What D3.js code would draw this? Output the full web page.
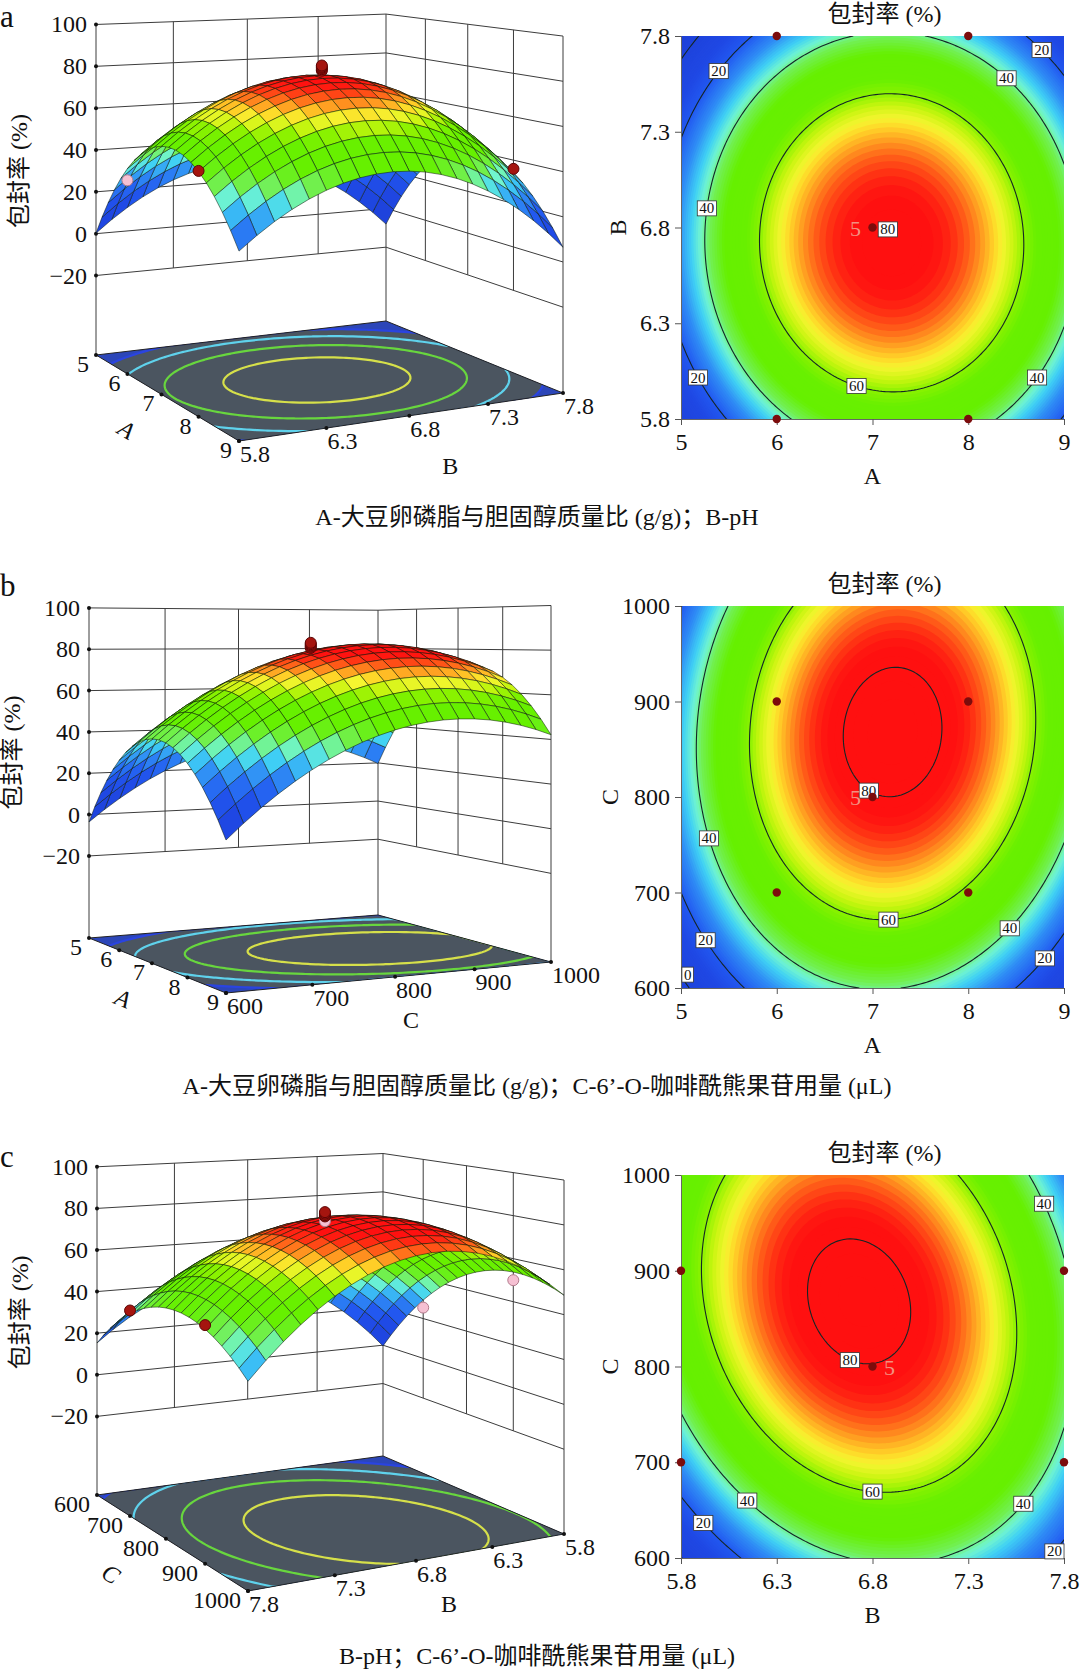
<!DOCTYPE html>
<html>
<head>
<meta charset="utf-8">
<script src="https://cdn.jsdelivr.net/npm/d3@7"></script>
<style>
  body { margin: 0; background: #fff; }
  svg text { font-family: "Liberation Serif", "Times New Roman", "Noto Sans CJK SC", serif; fill: #111; }
</style>
</head>
<body>
<svg id="chart" width="1080" height="1672"></svg>
<script>
// ---------- values ----------
const factorLow = [5, 5.8, 600];
const factorHigh = [9, 7.8, 1000];
const factorTicks = [[5, 6, 7, 8, 9], [5.8, 6.3, 6.8, 7.3, 7.8], [600, 700, 800, 900, 1000]];
const factorStep = [1, 1, 100];          // coded unit of the fitted model
const designLow = [6, 5.8, 700];
const designHigh = [8, 7.8, 900];
const designCentre = [7, 6.8, 800];

const responseTicks = [-20, 0, 20, 40, 60, 80, 100];
const contourLevels = [0, 20, 40, 60, 80];
const floorLevels = [20, 37, 54, 70];

// contour x / y factor of each panel
const panelNames = ["a", "b", "c"];
const panelX = [0, 0, 1];
const panelY = [1, 2, 2];
// quadratic response surface, estimated from the contour shapes
const panelPeak = [80.0, 82.7, 82.4];
const panelOptX = [7.2, 7.21, 6.73];
const panelOptY = [6.72, 868, 868];
const panelCurvX = [10.5, 10.2, 34];
const panelCurvY = [33, 5.9, 5.8];
const panelCross = [-0.5, 1, -4.7];

// runs visible on the 3D plots (x factor, y factor, measured response)
const runX = [[6, 8, 8], [], [7.8, 7.8, 5.8, 5.8]];
const runY = [[5.8, 5.8, 7.8], [], [700, 900, 700, 900]];
const runResp = [[31, 46, 36], [], [37, 43, 25.5, 50]];
const centreResp = [[81.3, 82, 82.6, 83.1, 83.7], [80.8, 81.4, 82, 82.6, 83.2], [77.8, 80, 80.6, 81.3, 82]];
const centreCount = 5;

// contour labels: level and approximate place (x factor, y factor)
const labelLevel = [[20, 20, 40, 40, 40, 60, 80, 20], [80, 60, 40, 40, 20, 0, 20], [80, 60, 40, 20, 40, 40, 20]];
const labelX = [[5.27, 5.25, 5.19, 8.44, 8.62, 6.9, 7.16, 8.78], [7.0, 7.16, 5.32, 8.4, 5.31, 5.07, 8.75], [6.70, 6.80, 6.16, 5.93, 7.52, 7.72, 7.7]];
const labelY = [[7.66, 6.04, 6.91, 7.59, 6.05, 6.07, 6.79, 7.74], [814, 680, 758, 664, 653, 614, 636], [815, 681, 665, 640, 669, 972, 633]];

const factorNames = ["A", "B", "C"];
const responseTitle = "包封率 (%)";
const captions = [
  "A-大豆卵磷脂与胆固醇质量比 (g/g)；B-pH",
  "A-大豆卵磷脂与胆固醇质量比 (g/g)；C-6’-O-咖啡酰熊果苷用量 (μL)",
  "B-pH；C-6’-O-咖啡酰熊果苷用量 (μL)"
];

// ---------- layout ----------
const contourBox = [
  { x0: 681, x1: 1064, y0: 36, y1: 419 },
  { x0: 681, x1: 1064, y0: 606, y1: 988 },
  { x0: 681, x1: 1064, y0: 1175, y1: 1558 }
];
// floor corners (left, front, right, back), horizon y, px per unit at left corner, floor level
const box3d = [
  { L: [96, 355], F: [239, 441], R: [563, 393], Bk: [386, 321], yh: -121, k: 2.092, z0: -58 },
  { L: [89, 938], F: [226, 993], R: [551, 962], Bk: [378, 915], yh: 638, k: 2.067, z0: -59.7 },
  { L: [97, 1495], F: [248, 1591], R: [564, 1534], Bk: [383, 1456], yh: 997.6, k: 2.08, z0: -57.8 }
];
const leftAxis = [0, 0, 2], leftDir = [1, 1, 1];
const rightAxis = [1, 2, 1], rightDir = [1, 1, -1];
const leftTitleOff = [[-35, 35], [-29, 35], [-55, 35]];
const rightTitleOff = [[41, 50], [16, 43], [33, 43]];
const captionY = [525, 1094, 1664];
const letterY = [27, 596, 1167];
const yTitleX = [626, 618, 618];

const colourStops = [-10, 12, 20, 28, 34, 38, 42, 48, 56, 60, 63, 66, 68, 71, 73.5, 76, 78];
const colourValues = ["#1d3fd6", "#1f48e4", "#2258f0", "#2f8cf5", "#3fd0f5", "#70f5d0", "#72f055", "#66f000",
  "#68f000", "#8af200", "#c8f510", "#f5f530", "#ffd528", "#ff9420", "#ff5a18", "#ff2812", "#ff1010"];
const colour = d3.scaleLinear().domain(colourStops).range(colourValues).clamp(true);
const floorColours = ["#2a44e0", "#5fd2ec", "#68d63e", "#d6e04a"];

const svg = d3.select("#chart");
const defs = svg.append("defs");

function resp(p, x, y) {
  const dx = (x - panelOptX[p]) / factorStep[panelX[p]];
  const dy = (y - panelOptY[p]) / factorStep[panelY[p]];
  return panelPeak[p] - panelCurvX[p] * dx * dx - panelCurvY[p] * dy * dy + panelCross[p] * dx * dy;
}

function makeProjection(b) {
  const [x0, y0] = b.L, [x1, y1] = b.F, [x2, y2] = b.R, [x3, y3] = b.Bk;
  const dx1 = x1 - x2, dx2 = x3 - x2, dx3 = x0 - x1 + x2 - x3;
  const dy1 = y1 - y2, dy2 = y3 - y2, dy3 = y0 - y1 + y2 - y3;
  const den = dx1 * dy2 - dx2 * dy1;
  const g = (dx3 * dy2 - dx2 * dy3) / den, h = (dx1 * dy3 - dx3 * dy1) / den;
  const a = x1 - x0 + g * x1, bb = x3 - x0 + h * x3, c = x0;
  const d = y1 - y0 + g * y1, e = y3 - y0 + h * y3, f = y0;
  const eye = (y0 - b.yh) / b.k;
  return (u, v, z) => {
    const w = g * u + h * v + 1;
    const xf = (a * u + bb * v + c) / w, yf = (d * u + e * v + f) / w;
    return [xf, b.yh + (yf - b.yh) * (eye - (z - b.z0)) / eye];
  };
}

const line = d3.line();

function draw3D(p) {
  const b = box3d[p];
  const P = makeProjection(b);
  const g = svg.append("g");
  const lf = leftAxis[p], rf = rightAxis[p];
  const uS = d3.scaleLinear().domain(leftDir[p] > 0 ? [factorLow[lf], factorHigh[lf]] : [factorHigh[lf], factorLow[lf]]).range([0, 1]);
  const vS = d3.scaleLinear().domain(rightDir[p] > 0 ? [factorLow[rf], factorHigh[rf]] : [factorHigh[rf], factorLow[rf]]).range([0, 1]);
  const zTop = d3.max(responseTicks), zBot = d3.min(responseTicks);

  const toXY = (u, v) => {
    const vals = [];
    vals[lf] = uS.invert(u);
    vals[rf] = vS.invert(v);
    return [vals[panelX[p]], vals[panelY[p]]];
  };
  const toUV = (x, y) => {
    const vals = [];
    vals[panelX[p]] = x;
    vals[panelY[p]] = y;
    return [uS(vals[lf]), vS(vals[rf])];
  };

  // back walls
  const wall = g.append("g").attr("stroke", "#3c3c3c").attr("stroke-width", 1).attr("fill", "none");
  responseTicks.forEach(z => wall.append("path").attr("d", line([P(0, 0, z), P(0, 1, z), P(1, 1, z)])));
  factorTicks[rf].slice(1, -1).forEach(t => {
    const v = vS(t);
    wall.append("path").attr("d", line([P(0, v, zBot), P(0, v, zTop)]));
  });
  factorTicks[lf].slice(1, -1).forEach(t => {
    const u = uS(t);
    wall.append("path").attr("d", line([P(u, 1, zBot), P(u, 1, zTop)]));
  });
  [[0, 0], [0, 1], [1, 1]].forEach(([u, v]) => wall.append("path").attr("d", line([P(u, v, b.z0), P(u, v, zTop)])));

  // floor with projected contours
  const n = 61;
  const grid = new Array(n * n);
  for (let j = 0; j < n; j++) for (let i = 0; i < n; i++) {
    const [x, y] = toXY(i / (n - 1), j / (n - 1));
    grid[j * n + i] = resp(p, x, y);
  }
  const floorPath = d3.geoPath(d3.geoTransform({
    point: function (cx, cy) {
      const q = P((cx - 0.5) / (n - 1), (cy - 0.5) / (n - 1), b.z0);
      this.stream.point(q[0], q[1]);
    }
  }));
  const quad = [P(0, 0, b.z0), P(1, 0, b.z0), P(1, 1, b.z0), P(0, 1, b.z0)];
  const quadD = "M" + quad.join("L") + "Z";
  defs.append("clipPath").attr("id", "floor" + p).append("path").attr("d", quadD);
  g.append("path").attr("d", quadD).attr("fill", "#2c46b8");
  const fl = g.append("g").attr("clip-path", `url(#floor${p})`);
  const floorCont = d3.contours().size([n, n]).thresholds(floorLevels)(grid);
  fl.append("path").attr("d", floorPath(floorCont[0])).attr("fill", "#4b5560");
  fl.selectAll("path.fl").data(floorCont).join("path").attr("class", "fl")
    .attr("d", floorPath).attr("fill", "none")
    .attr("stroke", (d, i) => floorColours[i]).attr("stroke-width", 2.2);
  g.append("path").attr("d", quadD).attr("fill", "none").attr("stroke", "#222").attr("stroke-width", 1);

  // response axis
  responseTicks.forEach(z => {
    const q = P(0, 0, z);
    g.append("circle").attr("cx", q[0]).attr("cy", q[1]).attr("r", 2).attr("fill", "#111");
    g.append("text").attr("x", q[0] - 9).attr("y", q[1] + 8).attr("text-anchor", "end")
      .attr("font-size", 24).text(z < 0 ? "\u2212" + Math.abs(z) : z);
  });
  const qt = P(0, 0, 30);
  g.append("text").attr("transform", `translate(${qt[0] - 69},${qt[1]}) rotate(-90)`)
    .attr("text-anchor", "middle").attr("font-size", 24).text(responseTitle);

  // floor axes
  factorTicks[lf].forEach(t => {
    const q = P(uS(t), 0, b.z0);
    g.append("circle").attr("cx", q[0]).attr("cy", q[1]).attr("r", 2).attr("fill", "#111");
    g.append("text").attr("x", q[0] - 7).attr("y", q[1] + 17).attr("text-anchor", "end").attr("font-size", 24).text(t);
  });
  factorTicks[rf].forEach(t => {
    const q = P(1, vS(t), b.z0);
    g.append("circle").attr("cx", q[0]).attr("cy", q[1]).attr("r", 2).attr("fill", "#111");
    g.append("text").attr("x", q[0] + 1).attr("y", q[1] + 21).attr("text-anchor", "start").attr("font-size", 24).text(t);
  });
  const lm = P(0.5, 0, b.z0), lEnd = P(1, 0, b.z0), lStart = P(0, 0, b.z0);
  const ang = Math.atan2(lEnd[1] - lStart[1], lEnd[0] - lStart[0]) * 180 / Math.PI;
  g.append("text")
    .attr("transform", `translate(${lm[0] + leftTitleOff[p][0]},${lm[1] + leftTitleOff[p][1]}) rotate(${ang})`)
    .attr("text-anchor", "middle").attr("dy", "0.35em").attr("font-size", 24).attr("font-style", "italic")
    .text(factorNames[lf]);
  const rm = P(1, 0.5, b.z0);
  g.append("text").attr("x", rm[0] + rightTitleOff[p][0]).attr("y", rm[1] + rightTitleOff[p][1])
    .attr("text-anchor", "middle").attr("dy", "0.35em").attr("font-size", 24).text(factorNames[rf]);

  // surface
  const N = 20;
  const cells = [];
  for (let i = 0; i < N; i++) for (let j = 0; j < N; j++) {
    const pts = [[i, j], [i + 1, j], [i + 1, j + 1], [i, j + 1]].map(([a, c]) => {
      const u = a / N, v = c / N;
      const [x, y] = toXY(u, v);
      return { u, v, z: resp(p, x, y) };
    });
    cells.push({
      poly: pts.map(d => P(d.u, d.v, d.z)),
      z: d3.mean(pts, d => d.z),
      depth: P((i + 0.5) / N, (j + 0.5) / N, b.z0)[1]
    });
  }
  cells.sort((a, c) => a.depth - c.depth);
  g.append("g").selectAll("path").data(cells).join("path")
    .attr("d", d => "M" + d.poly.join("L") + "Z")
    .attr("fill", d => colour(d.z))
    .attr("stroke", "rgba(12,24,12,0.75)").attr("stroke-width", 0.7).attr("stroke-linejoin", "round");

  // design runs
  const runs = runX[p].map((x, i) => ({ x, y: runY[p][i], r: runResp[p][i] }));
  const cx = designCentre[panelX[p]], cy = designCentre[panelY[p]];
  centreResp[p].forEach(r => runs.push({ x: cx, y: cy, r }));
  runs.sort((a, c) => a.r - c.r);
  g.append("g").selectAll("circle").data(runs).join("circle")
    .attr("cx", d => { const [u, v] = toUV(d.x, d.y); return P(u, v, d.r)[0]; })
    .attr("cy", d => { const [u, v] = toUV(d.x, d.y); return P(u, v, d.r)[1]; })
    .attr("r", 5.5)
    .attr("fill", d => d.r >= resp(p, d.x, d.y) ? "#a5150f" : "#f5c0d2")
    .attr("stroke", d => d.r >= resp(p, d.x, d.y) ? "#5c0505" : "#b27a8c").attr("stroke-width", 1);

  svg.append("text").attr("x", 0).attr("y", letterY[p]).attr("font-size", 31).text(panelNames[p]);
}

function drawContour(p) {
  const bx = contourBox[p];
  const xf = panelX[p], yf = panelY[p];
  const xS = d3.scaleLinear().domain([factorLow[xf], factorHigh[xf]]).range([bx.x0, bx.x1]);
  const yS = d3.scaleLinear().domain([factorLow[yf], factorHigh[yf]]).range([bx.y1, bx.y0]);
  const g = svg.append("g");
  const n = 121;
  const gx = i => factorLow[xf] + i / (n - 1) * (factorHigh[xf] - factorLow[xf]);
  const gy = j => factorLow[yf] + j / (n - 1) * (factorHigh[yf] - factorLow[yf]);
  const grid = new Array(n * n);
  for (let j = 0; j < n; j++) for (let i = 0; i < n; i++) grid[j * n + i] = resp(p, gx(i), gy(j));
  const toPx = (cx, cy) => [xS(gx(cx - 0.5)), yS(gy(cy - 0.5))];
  const path = d3.geoPath(d3.geoTransform({
    point: function (cx, cy) { const q = toPx(cx, cy); this.stream.point(q[0], q[1]); }
  }));
  defs.append("clipPath").attr("id", "plot" + p).append("rect")
    .attr("x", bx.x0).attr("y", bx.y0).attr("width", bx.x1 - bx.x0).attr("height", bx.y1 - bx.y0);
  const plot = g.append("g").attr("clip-path", `url(#plot${p})`);
  plot.append("rect").attr("x", bx.x0).attr("y", bx.y0).attr("width", bx.x1 - bx.x0).attr("height", bx.y1 - bx.y0)
    .attr("fill", colour(-40));
  const bands = d3.contours().size([n, n]).thresholds(d3.range(-40, 88, 1))(grid);
  plot.selectAll("path.band").data(bands).join("path").attr("class", "band")
    .attr("d", path).attr("fill", d => colour(d.value + 0.5));
  const lines = d3.contours().size([n, n]).thresholds(contourLevels)(grid);
  plot.selectAll("path.cl").data(lines).join("path").attr("class", "cl")
    .attr("d", path).attr("fill", "none").attr("stroke", "#142626").attr("stroke-width", 1.1);

  // axes
  const ax = g.append("g").attr("transform", `translate(0,${bx.y1})`)
    .call(d3.axisBottom(xS).tickValues(factorTicks[xf]).tickFormat(d => d).tickSize(6).tickSizeOuter(0).tickPadding(8));
  const ay = g.append("g").attr("transform", `translate(${bx.x0},0)`)
    .call(d3.axisLeft(yS).tickValues(factorTicks[yf]).tickFormat(d => d).tickSize(6).tickSizeOuter(0).tickPadding(5));
  [ax, ay].forEach(a => {
    a.attr("font-size", 24);
    a.select(".domain").attr("stroke", "#666");
    a.selectAll(".tick line").attr("stroke", "#555");
  });
  g.append("text").attr("x", (bx.x0 + bx.x1) / 2).attr("y", bx.y1 + 65).attr("text-anchor", "middle")
    .attr("font-size", 24).text(factorNames[xf]);
  g.append("text").attr("transform", `translate(${yTitleX[p]},${(bx.y0 + bx.y1) / 2}) rotate(-90)`)
    .attr("text-anchor", "middle").attr("font-size", 24).text(factorNames[yf]);
  g.append("text").attr("x", (bx.x0 + bx.x1) / 2 + 12).attr("y", bx.y0 - 14).attr("text-anchor", "middle")
    .attr("font-size", 24).text(responseTitle);

  // contour labels snapped onto their line
  labelLevel[p].forEach((lv, i) => {
    const hint = [xS(labelX[p][i]), yS(labelY[p][i])];
    const geom = d3.contours().size([n, n]).thresholds([lv])(grid)[0];
    let best = hint, bestD = Infinity;
    geom.coordinates.forEach(poly => poly.forEach(ring => ring.forEach(([cx, cy]) => {
      const q = toPx(cx, cy);
      if (q[0] < bx.x0 + 8 || q[0] > bx.x1 - 8 || q[1] < bx.y0 + 6 || q[1] > bx.y1 - 6) return;
      const dd = (q[0] - hint[0]) ** 2 + (q[1] - hint[1]) ** 2;
      if (dd < bestD) { bestD = dd; best = q; }
    })));
    if (bestD > 900) best = hint;
    const w = String(lv).length * 7.6 + 4;
    g.append("rect").attr("x", best[0] - w / 2).attr("y", best[1] - 7.5).attr("width", w).attr("height", 15)
      .attr("fill", "#fff").attr("stroke", "#333").attr("stroke-width", 0.8);
    g.append("text").attr("x", best[0]).attr("y", best[1] + 5).attr("text-anchor", "middle")
      .attr("font-size", 15).text(lv);
  });

  // design points
  const pts = [];
  [designLow[xf], designHigh[xf]].forEach(x => [designLow[yf], designHigh[yf]].forEach(y => pts.push([x, y])));
  pts.push([designCentre[xf], designCentre[yf]]);
  g.selectAll("circle.run").data(pts).join("circle").attr("class", "run")
    .attr("cx", d => xS(d[0])).attr("cy", d => yS(d[1])).attr("r", 4.2).attr("fill", "#7c0c0c");
  const c = [xS(designCentre[xf]), yS(designCentre[yf])];
  const off = p === 2 ? 17 : -17;
  g.append("text").attr("x", c[0] + off).attr("y", c[1] + 8).attr("text-anchor", "middle")
    .attr("font-size", 22).style("fill", "#f39080").text(centreCount);
}

[0, 1, 2].forEach(p => {
  draw3D(p);
  drawContour(p);
  svg.append("text").attr("x", 537).attr("y", captionY[p]).attr("text-anchor", "middle")
    .attr("font-size", 24).text(captions[p]);
});
</script>
</body>
</html>
